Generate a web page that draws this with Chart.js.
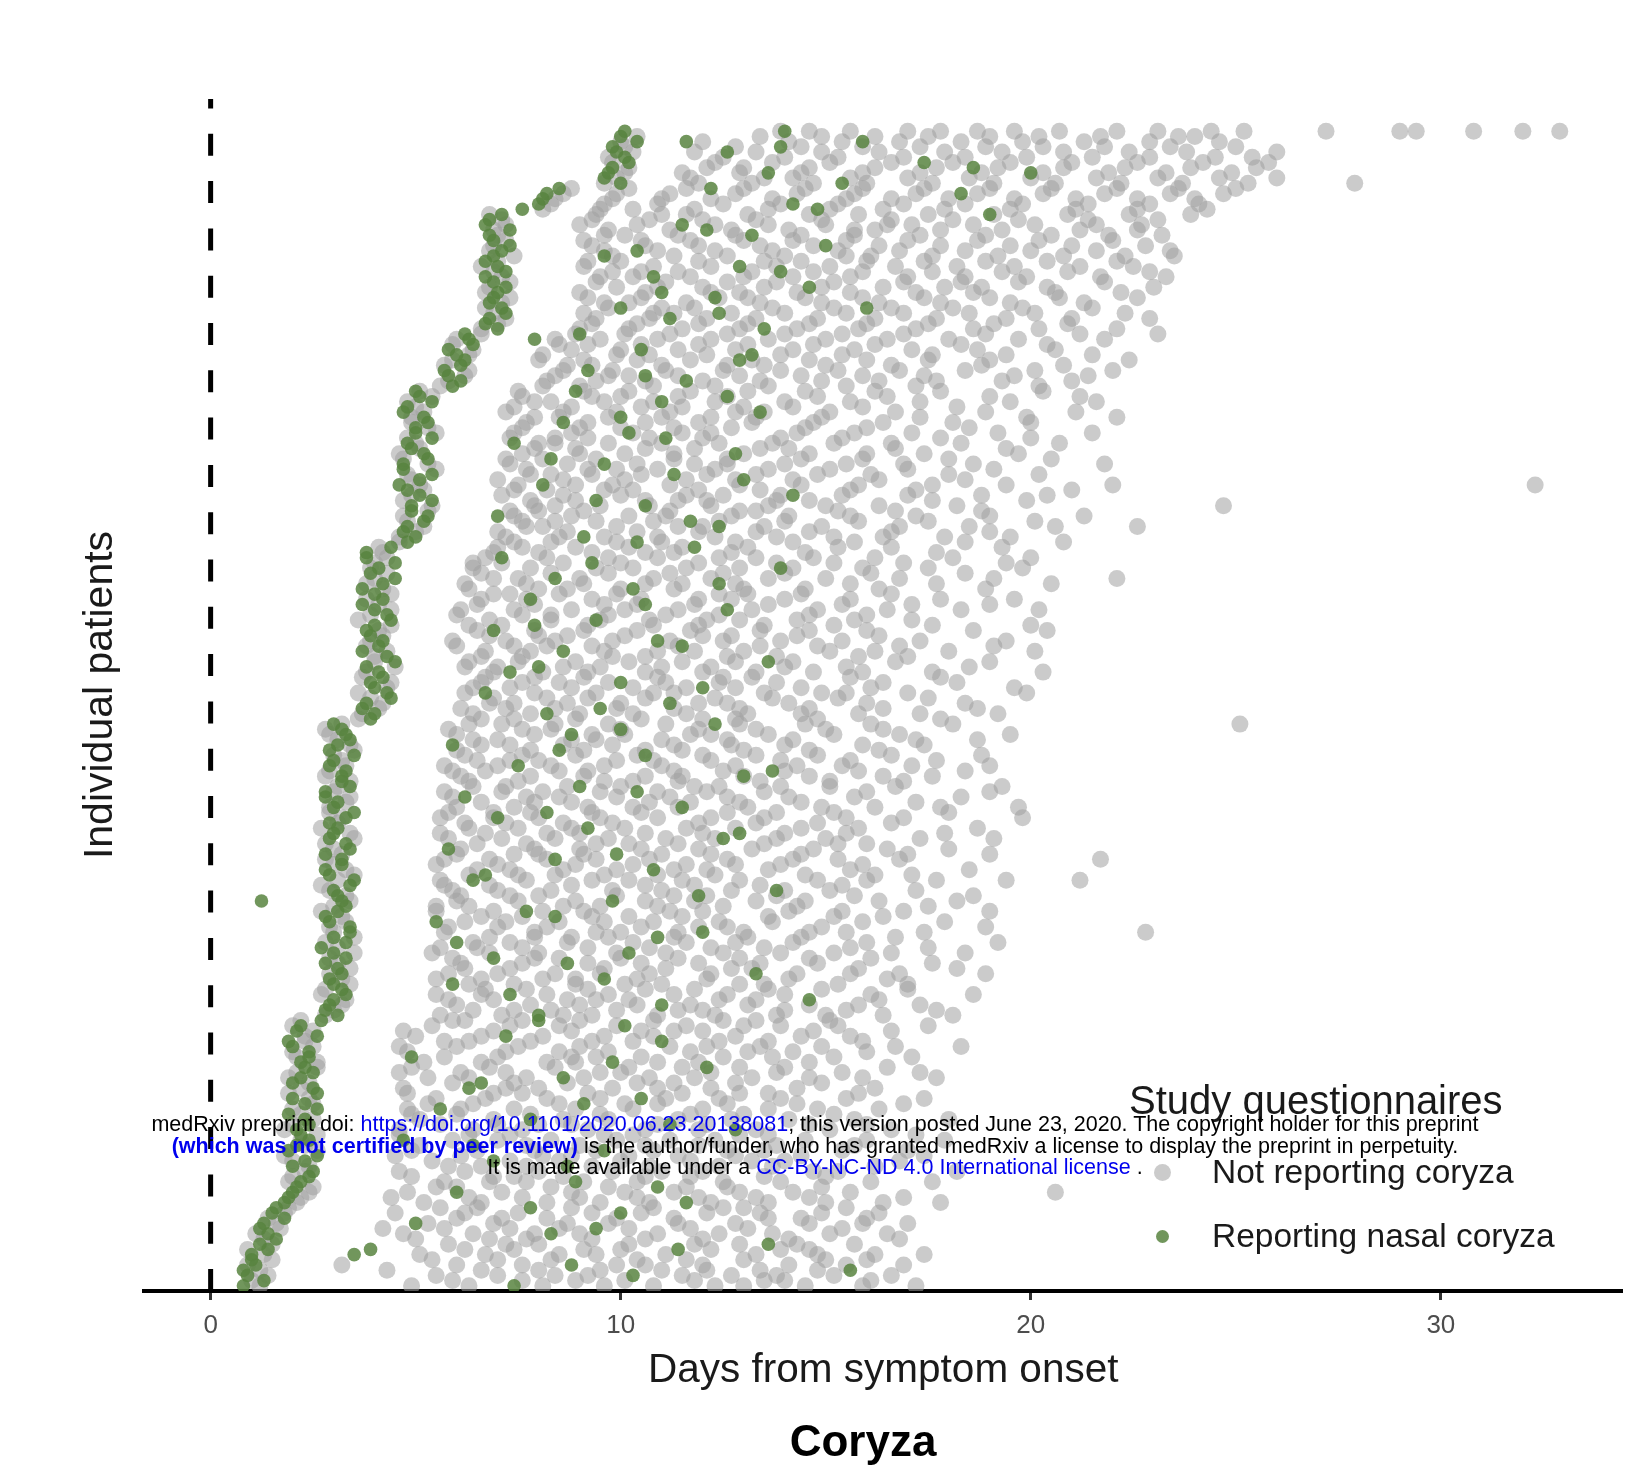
<!DOCTYPE html>
<html>
<head>
<meta charset="utf-8">
<title>Coryza</title>
<script src="https://cdn.jsdelivr.net/npm/chart.js@4.4.1/dist/chart.umd.min.js"></script>
<style>
  html, body { margin: 0; padding: 0; background: #fff; }
  #wrap { position: relative; width: 1631px; height: 1476px; font-family: "Liberation Sans", Arial, Helvetica, sans-serif; }
  #chart { position: absolute; left: 0; top: 0; }
  .ov { position: absolute; white-space: nowrap; line-height: 1; }
  .key { position: absolute; border-radius: 50%; }
  #stamp { position: absolute; left: 65px; width: 1500px; top: 1114px; text-align: center; font-size: 21.5px; line-height: 21.5px; color: #000; white-space: nowrap; }
  #stamp .b { color: #0000ee; }
  #stamp .bb { color: #0000ee; font-weight: bold; }
</style>
</head>
<body>
<div id="wrap">
  <canvas id="chart" width="1631" height="1476"></canvas>
  <div class="ov" style="left:1129px; top:1080px; font-size:40px; color:#1a1a1a;">Study questionnaires</div>
  <div class="key" style="left:1154px; top:1164px; width:17px; height:17px; background:rgba(160,160,160,0.55);"></div>
  <div class="ov" style="left:1212px; top:1155px; font-size:33.5px; color:#1a1a1a;">Not reporting coryza</div>
  <div class="key" style="left:1156px; top:1230px; width:13px; height:13px; background:rgba(88,132,64,0.85);"></div>
  <div class="ov" style="left:1212px; top:1219px; font-size:33.5px; color:#1a1a1a;">Reporting nasal coryza</div>
  <div class="ov" style="left:663px; width:400px; text-align:center; top:1419px; font-size:44px; font-weight:bold; color:#000;">Coryza</div>
  <div id="stamp">
    <div>medRxiv preprint doi: <span class="b">https://doi.org/10.1101/2020.06.23.20138081</span>; this version posted June 23, 2020. The copyright holder for this preprint</div>
    <div><span class="bb">(which was not certified by peer review)</span> is the author/funder, who has granted medRxiv a license to display the preprint in perpetuity.</div>
    <div>It is made available under a <span class="b">CC-BY-NC-ND 4.0 International license</span> .</div>
  </div>
</div>
<script>
// Days from symptom onset of each questionnaire, grouped by patients' first report day.
// Row = [patient index, days not reporting coryza, days reporting nasal coryza]
const dayTicks = [0, 10, 20, 30];
const onsetDay = 0;
const patientMax = 1146;

const rowsOnsetDay1 = [
  [5,  [1.2, 4.9, 6.3, 8.1, 9.6, 10.8, 12.3, 13.0, 14.5, 15.9, 17.2], [0.8, 7.4]],
  [10, [1.0, 5.9, 7.6, 8.9, 10.1, 11.8, 13.5, 14.0, 16.1], [1.3]],
  [15, [1.4, 5.5, 7.0, 8.4, 9.2, 11.5, 12.7, 13.8, 15.2, 16.6], [0.9, 10.3]],
  [20, [1.2, 4.3, 6.6, 8.0, 9.5, 11.0, 12.1, 13.4, 14.8], [0.8, 15.6]],
  [25, [0.9, 3.2, 6.0, 7.6, 9.9, 10.6, 12.0, 14.1, 15.5, 16.9], [1.1, 8.8]],
  [30, [1.5, 5.4, 7.0, 8.3, 10.4, 11.6, 13.0, 15.0, 16.0], [1.0]],
  [35, [1.3, 5.1, 6.7, 8.5, 9.4, 11.1, 13.3, 14.8, 16.2, 17.4], [1.0, 3.5]],
  [40, [0.9, 6.2, 7.4, 9.1, 10.0, 12.2, 13.9, 14.6], [1.4, 3.9, 11.4]],
  [45, [1.5, 5.8, 7.2, 8.0, 10.2, 11.8, 12.9, 14.3, 15.7], [1.2, 13.6]],
  [50, [1.3, 5.0, 6.8, 7.7, 9.3, 10.6, 12.0, 14.1, 16.8], [1.6]],
  [55, [1.1, 4.7, 6.4, 7.9, 9.0, 10.9, 12.4, 13.7, 15.1, 16.5], [1.4, 8.3]],
  [60, [1.7, 4.2, 5.7, 7.3, 8.5, 10.2, 11.7, 13.1, 15.4], [1.2, 9.4]],
  [65, [1.6, 5.3, 6.9, 8.7, 9.7, 11.4, 12.8, 14.6, 15.9, 17.0], [1.3, 5.0]],
  [70, [1.4, 6.0, 7.1, 8.2, 9.9, 11.3, 13.6, 14.4, 16.0], [1.8]],
  [75, [1.8, 4.5, 6.2, 7.5, 9.3, 10.5, 12.1, 13.4, 14.9, 16.3], [1.5, 10.0]],
  [80, [1.9, 5.6, 6.5, 8.8, 10.8, 12.5, 13.0, 15.5], [1.6, 7.8]]
];

const rowsOnsetDay2 = [
  [85,  [2.1, 5.2, 6.6, 8.2, 9.5, 10.7, 12.2, 13.6, 15.0, 16.4, 17.8], [1.8, 11.6]],
  [90,  [2.2, 4.4, 6.3, 7.6, 9.0, 10.4, 11.9, 13.3, 14.6, 16.9], [1.9]],
  [95,  [2.4, 4.8, 7.1, 8.8, 10.1, 11.3, 12.9, 14.2, 15.6, 20.6], [2.0, 6.0]],
  [100, [2.5, 5.5, 6.0, 8.3, 9.7, 11.6, 12.6, 14.9], [2.1, 10.9]],
  [105, [1.9, 5.7, 6.8, 7.7, 9.1, 10.4, 12.5, 13.9, 16.1, 17.6], [2.2, 8.9]],
  [110, [2.0, 4.9, 6.9, 7.4, 8.6, 10.6, 11.7, 13.5, 15.0], [2.4]],
  [115, [2.3, 4.6, 6.2, 8.0, 9.8, 11.0, 12.0, 14.7, 15.3, 18.2], [2.5]],
  [120, [2.4, 5.8, 6.6, 7.7, 9.3, 10.7, 12.4, 13.7, 16.2], [2.0, 8.7]],
  [125, [2.0, 5.4, 7.3, 8.5, 10.0, 11.7, 13.2, 14.0, 16.8], [2.3, 6.9]],
  [130, [1.8, 4.5, 6.1, 8.1, 8.8, 10.2, 11.4, 12.8, 14.4, 17.4], [2.6]],
  [135, [2.6, 4.9, 6.5, 7.9, 9.4, 10.8, 12.6, 13.5, 15.4, 17.0], [1.9, 9.6]],
  [140, [2.3, 5.1, 7.7, 9.0, 10.6, 11.9, 13.8, 15.7], [2.1, 6.4]],
  [145, [2.2, 5.9, 7.0, 8.3, 9.9, 11.2, 12.3, 14.5, 16.0, 17.9], [2.4, 4.7]],
  [150, [2.6, 4.6, 6.3, 7.3, 9.6, 10.3, 12.9, 13.6, 17.2], [2.2]],
  [155, [1.8, 4.6, 6.4, 7.6, 9.2, 10.6, 11.9, 13.3, 15.1, 16.6], [2.1, 12.8]],
  [160, [2.0, 5.6, 7.0, 8.0, 8.8, 10.9, 12.1, 14.6, 16.0], [2.4, 11.2]],
  [165, [2.5, 5.1, 6.9, 8.6, 9.7, 11.4, 12.7, 14.1, 15.7, 18.0], [2.3, 7.8]],
  [170, [2.2, 4.9, 6.0, 7.8, 9.5, 11.7, 13.0, 15.2], [1.9]],
  [175, [2.0, 4.8, 6.1, 7.4, 8.9, 10.3, 12.0, 13.6, 14.8, 16.3], [2.6, 5.6]],
  [180, [2.5, 5.3, 6.4, 8.5, 10.1, 10.9, 12.6, 14.3, 16.9], [2.3, 9.1]],
  [185, [2.4, 5.5, 6.7, 8.2, 9.5, 11.1, 12.4, 13.9, 15.5, 17.4], [2.0, 10.5]],
  [190, [1.9, 4.8, 6.9, 7.6, 9.2, 11.5, 12.9, 13.6, 15.8], [2.6]],
  [195, [2.2, 4.7, 7.2, 8.0, 9.8, 10.9, 12.2, 14.3, 16.2], [2.5, 6.3]],
  [200, [2.4, 5.9, 7.4, 8.7, 10.4, 11.3, 12.8, 14.9], [2.0, 6.6]],
  [205, [1.9, 5.3, 6.3, 7.7, 9.1, 10.7, 11.8, 13.2, 14.6, 15.9, 17.7], [2.2, 8.6]],
  [210, [2.1, 4.6, 6.1, 7.2, 9.5, 10.0, 12.2, 13.8, 15.4, 17.3], [2.5]],
  [215, [2.6, 4.9, 6.8, 8.4, 10.2, 11.5, 12.9, 14.0, 16.5], [2.3, 12.1]],
  [220, [2.6, 5.2, 6.6, 8.2, 8.9, 10.9, 11.9, 14.6], [2.2, 9.8]],
  [225, [2.1, 5.7, 7.0, 8.8, 9.4, 10.5, 12.5, 13.7, 15.2, 17.1], [2.4, 4.9]],
  [230, [2.0, 4.8, 7.2, 8.5, 9.7, 11.7, 13.1, 14.2, 16.0], [2.4]],
  [235, [2.5, 4.6, 6.0, 7.5, 9.0, 11.2, 12.1, 13.4, 14.9, 16.7, 18.3], [2.0]],
  [240, [2.3, 5.7, 6.3, 7.8, 9.3, 10.3, 12.4, 13.6, 15.9], [1.9, 11.0]],
  [245, [2.3, 5.0, 6.6, 8.1, 9.6, 10.8, 12.8, 14.4, 15.6], [2.6, 7.2]],
  [250, [2.5, 4.7, 6.9, 8.8, 10.5, 11.3, 12.0, 14.7, 16.6], [2.1]],
  [255, [2.0, 5.4, 7.3, 8.5, 9.9, 11.6, 13.0, 13.9, 15.3, 17.5], [2.2, 10.1]],
  [260, [2.2, 5.9, 6.2, 7.6, 9.0, 10.8, 12.5, 13.3, 15.1], [2.7, 8.0]]
];

const rowsOnsetDay3 = [
  [265, [2.8, 5.6, 7.1, 8.6, 9.3, 10.9, 12.3, 13.8, 15.0, 16.4, 18.1], [3.1, 8.0]],
  [270, [3.0, 6.4, 7.4, 8.3, 9.9, 11.4, 12.0, 14.0, 15.5, 17.7], [2.8]],
  [275, [3.2, 6.0, 7.8, 9.0, 10.4, 11.7, 13.1, 14.6, 15.8, 17.3], [2.9, 11.0]],
  [280, [3.3, 5.8, 6.9, 8.7, 9.4, 10.2, 12.4, 13.3, 16.3], [3.0, 14.6]],
  [285, [2.7, 5.5, 6.6, 8.2, 9.7, 11.3, 12.6, 14.0, 16.1, 18.6], [3.3, 7.3]],
  [290, [2.8, 6.7, 7.7, 9.2, 10.6, 11.8, 13.6, 14.9, 17.0], [3.2]],
  [295, [3.4, 6.3, 7.4, 8.9, 10.1, 11.0, 12.9, 13.5, 15.3, 17.0], [3.0, 5.9]],
  [300, [3.2, 5.5, 6.6, 8.1, 8.9, 10.4, 12.1, 14.1, 16.5], [2.9, 9.6]],
  [305, [2.9, 5.8, 7.0, 8.4, 9.5, 10.7, 12.2, 14.3, 15.6, 16.8, 18.9], [3.2, 13.3]],
  [310, [3.4, 6.2, 7.3, 9.6, 11.1, 12.7, 13.2, 15.8, 18.2], [3.1]],
  [315, [3.1, 6.1, 7.6, 9.2, 10.5, 11.9, 13.4, 14.8, 17.6], [2.8, 8.7]],
  [320, [2.9, 5.9, 7.9, 8.5, 10.0, 11.4, 12.9, 14.6, 16.1], [3.3, 6.9]],
  [325, [3.5, 5.4, 6.8, 8.0, 9.9, 11.1, 12.5, 13.9, 15.2, 16.6, 18.4], [3.0, 10.2]],
  [330, [3.1, 5.6, 6.5, 7.6, 9.2, 10.7, 12.2, 13.5, 15.6, 17.5], [2.7]],
  [335, [2.8, 6.4, 7.3, 8.7, 10.3, 11.6, 12.8, 14.2, 16.0, 19.2], [3.3, 6.0]],
  [340, [3.5, 6.8, 7.9, 8.8, 9.7, 11.3, 13.1, 14.4, 16.7], [3.0, 10.9]],
  [345, [3.0, 5.7, 7.9, 9.4, 10.0, 11.4, 13.0, 14.6, 15.5, 17.4, 22.8], [3.4, 12.0]],
  [350, [2.9, 5.8, 7.0, 8.2, 10.5, 11.9, 12.6, 14.9, 18.9], [3.4]],
  [355, [3.3, 6.2, 7.2, 8.5, 9.6, 10.8, 12.4, 13.7, 15.9, 17.9], [2.9, 5.5]],
  [360, [3.2, 6.6, 7.6, 9.3, 10.2, 11.5, 13.6, 15.2, 16.4], [2.8, 8.4]],
  [365, [2.7, 5.5, 6.9, 8.1, 9.1, 11.2, 12.0, 14.1, 15.4, 16.9, 19.0], [3.1, 7.7]],
  [370, [3.0, 5.5, 6.3, 8.6, 9.5, 10.9, 12.5, 14.3, 17.5], [3.3]],
  [375, [3.4, 6.0, 7.5, 8.9, 10.6, 11.8, 13.3, 14.5, 16.3, 18.2], [3.2, 1.24, 9.8]],
  [380, [3.3, 6.1, 7.3, 8.0, 9.9, 11.3, 12.1, 13.8, 15.7, 18.6], [3.1, 11.9]],
  [385, [2.9, 5.9, 7.0, 8.3, 9.8, 11.0, 12.7, 14.0, 15.1, 17.2], [3.0, 13.8]],
  [390, [2.7, 5.7, 6.8, 8.8, 10.6, 11.8, 13.4, 15.4], [3.4]],
  [395, [3.1, 5.6, 7.7, 9.3, 10.2, 11.5, 12.9, 14.8, 16.0, 17.7, 19.4, 21.2], [3.5, 6.4]],
  [400, [3.5, 6.3, 7.5, 8.4, 9.6, 10.9, 12.3, 14.5, 16.2, 17.1], [2.9, 6.7]],
  [405, [3.3, 6.5, 7.3, 8.6, 9.9, 11.3, 12.1, 13.6, 15.6, 18.5], [2.8, 10.8]],
  [410, [3.0, 5.5, 7.0, 8.9, 10.3, 11.6, 12.8, 13.9, 15.9], [3.2]],
  [415, [2.8, 5.7, 6.8, 8.2, 9.4, 10.7, 12.6, 14.2, 15.3, 16.8, 21.7], [3.2, 8.4]],
  [420, [3.2, 6.0, 7.4, 8.0, 9.1, 11.0, 12.2, 14.4, 17.0, 19.0], [2.8, 9.9]],
  [425, [3.0, 6.1, 7.9, 9.0, 10.5, 11.9, 13.2, 14.7, 16.5, 18.0], [3.4, 5.8]],
  [430, [2.8, 6.5, 7.7, 9.4, 10.2, 11.4, 13.5, 15.3, 16.0], [3.3]],
  [435, [3.5, 5.8, 7.1, 8.4, 9.7, 11.1, 12.3, 13.8, 15.0, 17.3, 19.1], [2.9, 12.5]],
  [440, [3.4, 5.6, 6.7, 8.2, 9.0, 10.6, 12.0, 14.0, 15.5, 17.9], [3.0, 12.9]],
  [445, [2.7, 6.3, 7.5, 8.8, 10.1, 11.6, 12.8, 14.4, 15.8, 18.7], [3.1, 9.2]],
  [450, [3.1, 6.2, 7.2, 8.6, 9.8, 11.9, 13.3, 14.8, 16.6], [2.9]],
  [455, [3.2, 5.6, 6.9, 8.0, 9.5, 10.9, 12.2, 13.5, 15.5, 16.9, 19.8], [3.3, 7.0]],
  [460, [2.9, 5.8, 6.9, 7.8, 9.3, 10.5, 12.6, 13.8, 15.2, 18.0], [3.5, 8.2]],
  [465, [2.9, 6.0, 7.4, 9.2, 10.3, 11.4, 13.1, 14.9, 16.2, 17.8, 19.7], [3.0, 11.5]],
  [470, [3.3, 6.6, 7.9, 8.8, 10.7, 11.7, 12.9, 14.4, 17.2], [3.1]],
  [475, [3.4, 5.9, 7.7, 8.5, 9.9, 11.2, 12.6, 14.1, 15.7, 18.3], [2.8, 6.2]],
  [480, [3.0, 5.7, 7.1, 8.1, 9.5, 10.9, 12.1, 13.5, 16.0, 19.0], [2.8, 10.4]],
  [485, [3.1, 6.4, 7.2, 8.7, 10.0, 11.8, 12.4, 13.9, 15.1, 16.7, 19.3], [3.4, 9.0]],
  [490, [3.4, 6.3, 7.5, 9.6, 10.3, 11.4, 13.4, 15.1, 16.9], [3.2]],
  [495, [2.8, 6.1, 7.8, 9.1, 10.6, 11.5, 13.0, 14.6, 16.4, 17.6], [3.2, 13.0]],
  [500, [2.9, 5.9, 6.7, 8.5, 9.2, 11.3, 12.5, 14.0, 15.8, 18.4], [3.3, 13.7]],
  [505, [3.3, 5.7, 7.0, 8.3, 9.6, 11.0, 12.8, 14.3, 15.4, 17.1, 19.0], [2.9, 7.5]],
  [510, [3.2, 6.5, 7.3, 8.0, 9.9, 10.8, 12.2, 13.9, 15.6, 17.7], [3.0]],
  [515, [3.0, 6.2, 7.6, 8.9, 10.4, 12.0, 13.3, 14.8, 16.6, 18.8], [3.5, 10.6]],
  [520, [3.5, 6.0, 7.8, 9.1, 10.6, 11.5, 13.0, 14.6, 16.3], [2.9, 8.5]],
  [525, [3.4, 6.6, 7.3, 8.6, 9.8, 11.3, 12.7, 14.0, 15.9, 17.4], [3.1, 5.9]],
  [530, [3.1, 6.4, 7.0, 8.8, 9.4, 11.0, 12.6, 14.2, 17.2, 18.7], [3.4]],
  [535, [2.9, 6.0, 7.9, 9.3, 10.1, 11.7, 12.2, 13.6, 15.2, 16.8, 19.5], [3.3, 8.8]],
  [540, [2.8, 5.8, 7.6, 8.3, 10.0, 11.9, 13.3, 15.0, 16.4], [3.2, 10.0]],
  [545, [3.2, 6.3, 7.1, 8.4, 9.7, 11.1, 12.9, 14.5, 16.1, 18.1, 25.1], [3.0, 12.3]],
  [550, [3.6, 6.6, 7.4, 8.9, 10.5, 12.0, 12.8, 14.8, 17.8], [3.9]]
];

const rowsOnsetDay4 = [
  [555, [3.7, 6.4, 7.8, 9.0, 10.3, 11.6, 13.1, 14.4, 15.8, 17.3, 19.2], [4.0, 8.2]],
  [560, [4.1, 6.1, 7.2, 8.4, 9.9, 11.3, 12.9, 14.6, 16.4, 18.7], [3.7, 9.5]],
  [565, [4.2, 6.8, 7.4, 8.7, 10.0, 11.9, 12.6, 14.1, 16.0, 18.4], [3.8, 11.2]],
  [570, [3.9, 6.9, 8.2, 9.2, 10.6, 12.3, 13.7, 15.3, 17.5], [4.4]],
  [575, [3.6, 6.2, 7.9, 9.4, 10.8, 11.3, 13.5, 14.9, 15.5, 17.0, 19.9], [4.3, 6.7]],
  [580, [4.3, 6.4, 7.3, 8.8, 10.3, 11.6, 12.8, 14.4, 16.1, 19.6], [4.0, 12.0]],
  [585, [4.4, 6.6, 7.6, 8.5, 9.7, 11.1, 12.4, 13.8, 16.4, 18.2], [3.9, 10.0]],
  [590, [3.7, 6.7, 7.9, 9.1, 10.9, 12.5, 13.2, 15.6, 17.8], [4.2]],
  [595, [3.8, 6.9, 8.1, 9.2, 10.6, 12.0, 13.3, 14.7, 15.9, 17.6, 20.3], [4.1, 7.3]],
  [600, [4.5, 6.2, 7.0, 8.6, 9.5, 11.0, 12.2, 14.0, 15.5, 18.5], [3.8, 8.0]],
  [605, [4.0, 6.3, 7.5, 8.9, 10.2, 11.5, 12.8, 14.2, 16.7, 19.0], [4.5, 13.6]],
  [610, [4.0, 6.6, 7.6, 9.8, 10.6, 12.6, 13.8, 15.8, 17.0], [4.3]],
  [615, [4.3, 6.7, 7.8, 9.6, 10.9, 11.8, 13.0, 15.1, 16.2, 18.0, 20.1], [3.7, 8.6]],
  [620, [3.8, 6.0, 7.4, 8.2, 9.3, 11.4, 13.4, 14.8, 16.8, 19.1], [4.1, 11.5]],
  [625, [3.9, 5.9, 7.2, 8.4, 9.8, 11.2, 12.5, 13.9, 15.4, 17.3, 19.4], [4.2, 10.9]],
  [630, [4.2, 6.8, 8.0, 8.7, 10.1, 12.0, 12.7, 14.3, 16.3], [3.9]],
  [635, [4.1, 6.5, 7.9, 9.1, 10.4, 11.7, 13.4, 14.6, 16.0, 18.6, 20.4], [3.8, 6.9]],
  [640, [4.4, 6.3, 7.1, 9.2, 10.8, 11.9, 13.5, 15.2, 17.6, 20.0], [4.0, 7.9]],
  [645, [3.6, 6.8, 8.3, 9.5, 10.7, 12.1, 12.9, 14.3, 15.7, 17.1], [4.4, 9.4]],
  [650, [3.9, 6.0, 7.6, 8.3, 9.7, 11.1, 12.4, 14.6, 16.0], [4.3]],
  [655, [4.4, 6.1, 7.4, 8.8, 10.1, 11.4, 13.2, 14.8, 16.5, 18.3, 20.2], [4.0, 12.6]],
  [660, [4.1, 6.5, 7.9, 9.6, 10.4, 11.8, 13.6, 15.4, 17.1, 19.0], [3.7, 10.6]],
  [665, [3.8, 6.6, 7.7, 9.3, 10.5, 11.9, 12.7, 14.0, 15.6, 17.8, 19.6], [4.2, 7.8]],
  [670, [4.4, 6.9, 7.3, 8.5, 9.9, 12.4, 13.1, 14.4, 16.6], [4.0]],
  [675, [4.2, 6.3, 8.0, 8.7, 10.0, 11.3, 13.0, 14.5, 16.3, 18.9], [3.7, 10.3]],
  [680, [3.8, 6.2, 7.7, 9.1, 10.6, 11.5, 12.8, 15.6, 17.7, 20.5], [4.2, 12.4]],
  [685, [4.0, 6.9, 7.5, 9.0, 10.8, 12.2, 13.6, 15.0, 16.8, 19.1, 22.1], [4.5, 8.4]],
  [690, [4.3, 6.6, 8.3, 9.7, 11.2, 12.5, 14.0, 16.1, 18.4], [3.9]],
  [695, [3.9, 6.4, 7.8, 9.4, 10.3, 11.6, 12.9, 14.2, 15.9, 17.5, 19.8], [4.1, 13.9]],
  [700, [4.0, 6.4, 7.1, 8.6, 10.0, 11.9, 13.8, 15.2, 16.9, 19.4], [4.5, 9.3]],
  [705, [4.3, 6.7, 8.2, 9.7, 10.9, 12.4, 13.3, 14.7, 16.2, 18.1, 20.0], [3.8, 7.1]],
  [710, [4.2, 6.9, 8.0, 9.3, 10.6, 11.3, 12.7, 14.5, 17.7], [3.8]],
  [715, [4.1, 7.0, 7.6, 8.9, 10.2, 11.5, 13.1, 15.3, 16.6, 19.3], [4.4, 11.8]],
  [720, [4.6, 7.4, 8.3, 9.9, 11.0, 12.8, 14.2, 15.7, 18.4, 20.8], [4.8, 10.4]]
];

const rowsOnsetDay5 = [
  [725, [4.6, 7.2, 8.5, 9.6, 10.9, 12.3, 13.8, 15.2, 16.4, 17.9, 19.5], [5.0, 9.1]],
  [730, [5.0, 7.0, 8.7, 10.4, 11.9, 13.3, 14.6, 16.6, 19.0], [4.7]],
  [735, [5.2, 7.7, 8.1, 9.9, 11.4, 12.0, 13.5, 14.9, 16.8, 18.5, 20.6, 22.6], [4.8, 12.4]],
  [740, [4.8, 7.6, 8.4, 9.4, 10.8, 12.4, 14.0, 15.8, 17.5, 20.1], [5.2, 11.7]],
  [745, [4.7, 7.4, 8.8, 10.2, 11.1, 12.7, 14.1, 15.6, 17.2, 19.0, 21.3], [5.3, 7.0]],
  [750, [5.3, 7.3, 8.0, 9.1, 11.2, 12.9, 13.3, 15.3, 16.7, 18.8], [4.9]],
  [755, [5.4, 7.9, 8.4, 9.5, 10.7, 12.2, 13.6, 15.0, 16.3, 18.2, 24.7], [4.9, 10.6]],
  [760, [4.7, 7.8, 8.9, 10.6, 11.4, 12.1, 13.8, 14.6, 17.6, 19.9], [5.4, 9.4]],
  [765, [4.9, 7.1, 8.6, 10.0, 11.6, 12.5, 13.9, 15.4, 17.0, 18.8, 20.4], [5.1, 14.2]],
  [770, [5.2, 7.4, 8.2, 9.6, 10.3, 11.9, 13.4, 15.6, 17.2, 21.0], [4.8]],
  [775, [5.1, 7.5, 8.9, 9.8, 11.2, 12.9, 14.4, 15.8, 17.6, 19.4, 22.0, 32.3], [4.6, 8.1]],
  [780, [4.9, 7.0, 8.6, 10.1, 11.6, 12.8, 14.2, 16.3, 18.4], [5.1, 13.0]],
  [785, [4.8, 7.8, 8.3, 9.3, 10.5, 12.1, 13.3, 14.8, 16.1, 18.0, 20.2], [5.4, 11.3]],
  [790, [5.5, 7.7, 9.2, 9.9, 10.9, 12.3, 13.6, 15.1, 17.0, 19.1], [4.7]],
  [795, [5.3, 7.3, 8.7, 10.4, 11.8, 12.6, 14.0, 15.5, 16.9, 18.6, 21.8], [4.7, 9.6]],
  [800, [4.7, 7.2, 8.1, 9.4, 11.3, 12.6, 14.4, 15.9, 18.0, 20.5], [5.3, 8.3]],
  [805, [4.6, 7.6, 9.0, 10.1, 11.3, 13.0, 14.6, 16.0, 17.4, 19.7], [5.2, 12.8]],
  [810, [5.1, 7.9, 8.9, 10.6, 11.8, 13.4, 14.1, 16.7, 19.4], [4.9]],
  [815, [5.0, 8.0, 8.4, 9.7, 11.0, 12.4, 13.7, 15.2, 16.6, 18.3, 20.7], [4.8, 7.4]],
  [820, [4.8, 7.3, 8.4, 9.2, 10.7, 12.0, 13.9, 15.4, 17.8, 20.0], [5.4, 11.1]],
  [825, [5.5, 7.4, 8.8, 10.3, 11.5, 12.2, 14.3, 15.7, 17.1, 19.2, 21.5], [5.0, 10.2]],
  [830, [5.3, 7.6, 9.0, 10.0, 11.3, 12.7, 14.5, 16.0, 18.5], [5.0]],
  [835, [4.9, 7.7, 9.2, 10.6, 11.9, 13.2, 14.7, 16.4, 18.1, 20.0], [5.3, 8.6]],
  [840, [4.9, 7.9, 8.5, 9.7, 11.0, 12.2, 13.3, 14.9, 17.3, 19.9, 22.1], [5.2, 10.0]],
  [845, [5.2, 7.2, 8.6, 9.9, 11.2, 12.8, 13.5, 15.1, 16.7, 18.9, 21.1], [4.7, 13.4]],
  [850, [5.0, 7.4, 8.8, 10.5, 11.5, 13.0, 14.2, 15.9, 18.2], [4.8]],
  [855, [4.8, 7.9, 8.3, 9.6, 10.8, 12.3, 14.0, 15.6, 17.3, 19.5, 21.6], [5.4, 11.0]],
  [860, [5.4, 7.6, 9.3, 10.0, 11.4, 12.6, 14.8, 16.5, 19.0, 21.2], [5.1, 12.6]],
  [865, [5.1, 7.5, 9.1, 10.2, 11.7, 13.1, 14.5, 16.2, 17.8, 20.3], [5.0, 8.9]],
  [870, [5.6, 8.1, 9.0, 10.8, 12.3, 13.6, 15.5, 17.2, 20.2], [5.9]]
];

const rowsOnsetDay6 = [
  [875, [5.8, 8.2, 9.4, 10.6, 12.0, 13.4, 14.9, 16.3, 17.7, 19.3, 21.0], [6.1, 11.6]],
  [880, [6.2, 8.4, 9.7, 10.2, 11.4, 12.9, 14.4, 15.9, 17.4, 19.6, 21.4], [5.8, 10.6]],
  [885, [6.3, 8.6, 9.8, 11.1, 12.5, 13.9, 15.3, 16.8, 18.4, 20.1, 22.0], [5.7, 9.2]],
  [890, [5.7, 8.7, 9.3, 11.0, 12.6, 13.5, 15.0, 16.6, 18.8, 20.8], [6.1]],
  [895, [5.9, 8.0, 9.1, 10.4, 11.7, 13.2, 14.6, 16.0, 17.5, 19.0, 22.4], [6.2, 12.9]],
  [900, [6.3, 8.1, 9.9, 10.7, 12.1, 13.9, 15.4, 17.6, 19.4, 21.5], [6.0, 13.2]],
  [905, [6.4, 8.8, 10.0, 11.4, 12.8, 14.2, 15.7, 17.1, 18.7, 20.6], [5.8, 10.5]],
  [910, [5.9, 8.5, 9.2, 10.5, 11.9, 13.1, 14.7, 16.2, 18.3, 20.4], [6.4]],
  [915, [6.0, 8.4, 9.5, 10.9, 12.2, 13.6, 15.0, 16.5, 18.0, 19.7, 21.8], [6.3, 7.9]],
  [920, [6.6, 8.9, 10.1, 11.2, 12.6, 14.0, 15.4, 16.9, 18.9, 21.2, 23.1], [6.2, 9.0]]
];

const rowsOnsetDay7 = [
  [925,  [6.6, 9.0, 10.2, 11.5, 12.9, 14.3, 15.8, 17.2, 18.6, 20.2, 22.1], [7.0, 13.5]],
  [930,  [7.0, 9.3, 10.4, 11.9, 13.1, 14.6, 16.0, 17.5, 19.1, 20.9], [6.7]],
  [935,  [7.2, 9.4, 10.7, 12.1, 13.3, 14.8, 16.2, 17.7, 19.4, 21.0, 22.9], [6.8, 11.2]],
  [940,  [6.9, 9.1, 10.8, 11.3, 12.7, 14.0, 15.5, 16.9, 18.5, 20.1, 22.3], [7.2, 12.4]],
  [945,  [6.7, 9.7, 11.0, 11.8, 13.7, 15.2, 16.6, 18.1, 19.8, 21.5], [7.1, 10.0, 16.0]],
  [950,  [7.1, 9.6, 10.2, 11.6, 13.4, 14.9, 16.3, 17.8, 19.5, 21.3], [6.8]],
  [955,  [7.3, 9.2, 10.5, 12.4, 13.1, 14.5, 15.9, 17.4, 19.0, 20.7, 22.6], [6.9, 12.3]],
  [960,  [6.7, 9.0, 10.6, 12.2, 12.9, 14.3, 15.6, 17.2, 18.6, 20.6, 22.2], [7.0, 11.0]],
  [965,  [6.8, 9.9, 10.9, 12.0, 13.5, 14.9, 16.4, 17.9, 18.8, 20.4, 23.0], [7.2, 14.6]],
  [970,  [7.3, 9.4, 11.1, 12.6, 13.8, 15.2, 16.9, 18.3, 19.7, 21.8], [6.9]],
  [975,  [7.1, 9.5, 10.3, 11.7, 13.0, 14.2, 15.6, 17.0, 18.4, 19.9, 21.7, 23.3], [6.7, 10.8]],
  [980,  [6.9, 9.8, 10.5, 11.4, 13.2, 14.7, 15.9, 17.6, 19.3, 20.9, 22.9], [7.2, 13.9]],
  [985,  [6.6, 9.1, 10.8, 12.2, 13.8, 15.1, 16.7, 18.2, 19.6, 21.2, 22.5], [7.0, 12.9]],
  [990,  [7.0, 9.2, 10.0, 11.9, 13.5, 14.4, 16.0, 17.4, 18.9, 20.4, 22.1], [6.7]],
  [995,  [7.4, 9.8, 11.3, 12.6, 14.0, 15.5, 16.1, 17.6, 19.2, 20.8, 22.3, 23.5], [6.9, 9.6]],
  [1000, [6.8, 9.6, 10.9, 12.3, 13.7, 15.3, 16.8, 18.4, 20.0, 21.6, 23.4], [7.1, 10.4]],
  [1005, [6.9, 9.3, 10.6, 11.9, 13.4, 14.7, 16.3, 17.8, 19.5, 21.0, 22.8], [7.3, 15.0]],
  [1010, [7.2, 9.1, 10.5, 11.7, 13.0, 14.2, 15.5, 17.0, 18.7, 20.2, 22.0], [6.9]],
  [1015, [7.0, 9.6, 10.1, 11.4, 12.8, 14.4, 15.7, 17.3, 18.9, 20.5, 21.9, 23.2], [6.8, 13.2]],
  [1020, [6.9, 9.7, 11.2, 12.7, 14.1, 15.7, 16.2, 17.8, 19.3, 21.2, 22.6], [7.3, 12.1]],
  [1025, [7.2, 9.0, 10.4, 12.3, 13.6, 15.0, 16.5, 17.1, 18.6, 20.1, 21.6, 22.7], [6.7, 11.5]],
  [1030, [7.1, 9.3, 10.7, 12.0, 13.3, 14.9, 16.6, 18.1, 19.7, 21.4, 23.1], [6.8]],
  [1035, [6.8, 9.4, 11.0, 11.6, 13.1, 14.6, 15.8, 17.5, 19.1, 20.9, 22.4, 23.9], [7.1, 19.0]],
  [1040, [8.1, 9.5, 10.3, 11.8, 13.6, 15.1, 16.4, 17.9, 19.5, 21.1, 22.6, 24.3], [7.6, 14.8]]
];

const rowsOnsetDay8 = [
  [1045, [8.3, 9.6, 10.9, 12.5, 13.9, 15.3, 16.9, 18.4, 19.8, 21.4, 22.9, 24.1], [8.0, 14.2]],
  [1050, [8.4, 9.8, 11.0, 12.2, 13.7, 15.5, 16.6, 18.0, 19.6, 21.1, 22.6, 24.0], [8.1]],
  [1055, [8.6, 9.9, 11.2, 12.8, 14.3, 15.7, 17.2, 18.7, 20.3, 21.8, 23.4, 24.7], [8.2, 18.3]],
  [1060, [8.8, 10.2, 11.6, 13.0, 14.5, 15.9, 17.4, 19.0, 20.5, 22.1, 23.6, 25.0], [8.5, 12.2]]
];

const rowsOnsetDay10 = [
  [1065, [9.6, 11.9, 13.2, 14.7, 16.0, 17.6, 19.1, 20.6, 22.2, 23.7, 25.3, 27.9], [10.0, 15.4]],
  [1070, [9.9, 11.7, 13.5, 14.2, 15.6, 17.0, 18.5, 20.0, 21.6, 23.1, 24.6, 26.0], [9.6]],
  [1075, [10.1, 11.5, 12.9, 14.4, 15.9, 17.3, 18.8, 20.3, 21.9, 23.3, 24.9], [9.7, 13.6, 20.0]],
  [1080, [10.2, 12.1, 13.0, 14.6, 16.2, 17.7, 19.2, 20.8, 22.3, 23.9, 25.5], [9.8, 18.6]],
  [1085, [9.8, 12.3, 13.7, 15.1, 16.6, 18.1, 19.5, 21.0, 22.6, 24.2, 25.8], [10.2, 17.4]],
  [1090, [9.7, 12.5, 14.0, 15.3, 16.9, 18.4, 19.9, 21.5, 22.9, 24.5, 25.4], [10.1]],
  [1095, [10.3, 11.8, 13.3, 14.9, 16.3, 17.9, 19.3, 20.8, 22.4, 23.8, 26.0], [9.9, 12.6]],
  [1100, [10.1, 12.8, 14.4, 15.9, 17.3, 18.9, 20.3, 21.8, 23.4, 25.0], [9.8, 13.9]],
  [1105, [10.0, 12.0, 14.1, 15.4, 16.8, 18.3, 19.8, 21.3, 22.9, 24.6], [10.4, 11.6, 15.9]],
  [1110, [10.4, 13.4, 14.9, 16.2, 17.5, 19.0, 20.2, 21.7, 23.6, 24.0], [10.0]],
  [1115, [13.9, 14.6, 15.6, 17.0, 17.8, 18.7, 19.6, 20.7, 22.1, 23.1, 24.4, 25.2, 27.2, 29.0, 29.4, 30.8, 32.0, 32.9], [10.1, 14.0]]
];

document.addEventListener('DOMContentLoaded', function () {
  const FONT = '"Liberation Sans", Arial, Helvetica, sans-serif';
  const allRows = [].concat(rowsOnsetDay1, rowsOnsetDay2, rowsOnsetDay3, rowsOnsetDay4,
    rowsOnsetDay5, rowsOnsetDay6, rowsOnsetDay7, rowsOnsetDay8, rowsOnsetDay10);

  const grayPts = [], greenPts = [];
  allRows.forEach(function (row) {
    const patient = row[0];
    row[1].forEach(function (d) { grayPts.push({ x: d, y: patient }); });
    row[2].forEach(function (d) { greenPts.push({ x: d, y: patient }); });
  });
  const onsetLine = [{ x: onsetDay, y: 0 }, { x: onsetDay, y: patientMax }];

  new Chart(document.getElementById('chart'), {
    type: 'scatter',
    data: {
      datasets: [
        { label: 'Reporting nasal coryza', data: greenPts, backgroundColor: 'rgba(88,132,64,0.85)',
          pointRadius: 6.8, borderWidth: 0, order: 1 },
        { label: 'Not reporting coryza', data: grayPts, backgroundColor: 'rgba(160,160,160,0.55)',
          pointRadius: 8.5, borderWidth: 0, order: 2 },
        { type: 'line', label: 'Symptom onset', data: onsetLine, borderColor: '#000', borderWidth: 5,
          borderDash: [22, 25.3], pointRadius: 0, fill: false, order: 3 },
      ],
    },
    options: {
      responsive: false, animation: false, events: [],
      layout: { padding: { top: 99, right: 0, bottom: 81, left: 0 } },
      scales: {
        x: {
          type: 'linear', min: -1.625, max: 34.43,
          afterBuildTicks: function (s) { s.ticks = dayTicks.map(function (v) { return { value: v }; }); },
          afterFit: function (s) { s.height = 104; },
          grid: { display: true, drawOnChartArea: false, drawTicks: true, tickLength: 9, tickWidth: 3, tickColor: '#333' },
          border: { display: true, color: '#000', width: 4 },
          ticks: { color: '#4d4d4d', font: { size: 26, family: FONT }, padding: 10, maxRotation: 0 },
          title: { display: true, text: 'Days from symptom onset', color: '#1a1a1a',
            font: { size: 40.5, family: FONT }, padding: { top: 0, bottom: 0 } },
        },
        y: {
          type: 'linear', min: 0, max: patientMax,
          afterFit: function (s) { s.width = 144; },
          grid: { display: false }, border: { display: false }, ticks: { display: false },
          title: { display: true, text: 'Individual patients', color: '#1a1a1a',
            font: { size: 41, family: FONT }, padding: { top: 76, bottom: 0 } },
        },
      },
      plugins: { legend: { display: false }, tooltip: { enabled: false } },
    },
  });
});
</script>
</body>
</html>
